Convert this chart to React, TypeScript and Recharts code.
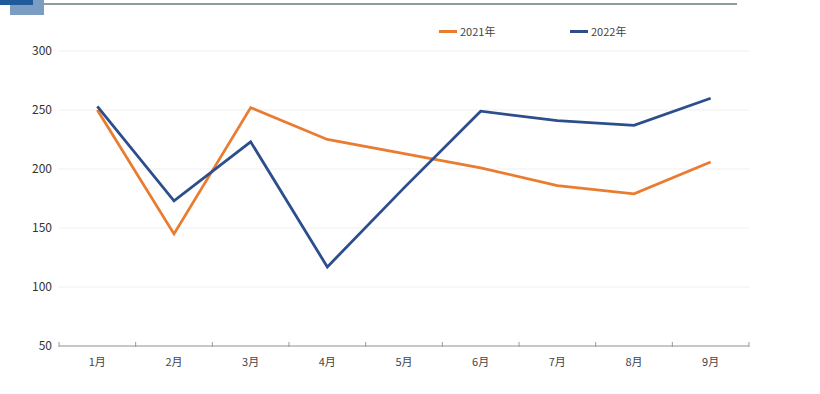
import React from "react";
import { LineChart, Line, XAxis, YAxis, CartesianGrid } from "recharts";

const months = ["1月", "2月", "3月", "4月", "5月", "6月", "7月", "8月", "9月"];
const values2021 = [250, 145, 252, 225, 213, 201, 186, 179, 206];
const values2022 = [253, 173, 223, 117, 184, 249, 241, 237, 260];
const yTicks = [50, 100, 150, 200, 250, 300];
const seriesNames = ["2021年", "2022年"];
const seriesColors = ["#E97C30", "#2D4E8C"];

const data = months.map((m, i) => ({ month: m, a: values2021[i], b: values2022[i] }));

const FONT = '"Noto Sans CJK SC", "Noto Sans", sans-serif';
const TICK_MARGIN = 12;

const XTick = (props: any) => {
  const { x, y, payload, index } = props;
  const off = payload && payload.offset ? payload.offset : 38.3;
  const axisY = y - TICK_MARGIN;
  return (
    <g>
      <line x1={x - off} x2={x - off} y1={axisY - 4} y2={axisY + 1} stroke="#999" strokeWidth={1} />
      {index === months.length - 1 && (
        <line x1={x + off} x2={x + off} y1={axisY - 4} y2={axisY + 1} stroke="#999" strokeWidth={1} />
      )}
      <text x={x} y={y} dy="0.71em" textAnchor="middle" fontSize={11} fill="#444" fontFamily={FONT}>
        {payload.value}
      </text>
    </g>
  );
};

export default function App() {
  return (
    <div style={{ position: "absolute", left: 0, top: 0, width: 820, height: 394, background: "#fff", overflow: "hidden" }}>
      <div style={{ position: "absolute", left: 44, top: 3, width: 693, height: 2, background: "#8d9c9c" }} />
      <div style={{ position: "absolute", left: 10, top: 0, width: 34, height: 15, background: "#7c9dc2" }} />
      <div style={{ position: "absolute", left: 0, top: 0, width: 33, height: 5, background: "#1f5b9a" }} />
      <div style={{ position: "absolute", left: 439, top: 23, display: "flex", fontFamily: FONT, fontSize: 11, color: "#444" }}>
        {seriesNames.map((n, i) => (
          <div key={n} style={{ display: "flex", alignItems: "center", width: 131 }}>
            <div style={{ width: 18, height: 3, background: seriesColors[i], marginRight: 3 }} />
            <span>{n}</span>
          </div>
        ))}
      </div>
      <LineChart
        width={820}
        height={394}
        data={data}
        margin={{ top: 51, right: 71, bottom: 18, left: 0 }}
        style={{ position: "absolute", left: 0, top: 0 }}
      >
        <CartesianGrid horizontal={true} vertical={false} stroke="#efefef" />
        <XAxis
          dataKey="month"
          scale="band"
          height={30}
          tickLine={false}
          tickSize={0}
          tickMargin={TICK_MARGIN}
          stroke="#999"
          tick={<XTick />}
          interval={0}
        />
        <YAxis
          width={59}
          domain={[50, 300]}
          ticks={yTicks}
          axisLine={false}
          tickLine={false}
          tickSize={0}
          tickMargin={7}
          tick={{ fontSize: 12, fill: "#333", fontFamily: FONT }}
        />
        <Line
          type="linear"
          dataKey="a"
          name={seriesNames[0]}
          stroke={seriesColors[0]}
          strokeWidth={2.8}
          dot={false}
          isAnimationActive={false}
        />
        <Line
          type="linear"
          dataKey="b"
          name={seriesNames[1]}
          stroke={seriesColors[1]}
          strokeWidth={2.8}
          dot={false}
          isAnimationActive={false}
        />
      </LineChart>
    </div>
  );
}
